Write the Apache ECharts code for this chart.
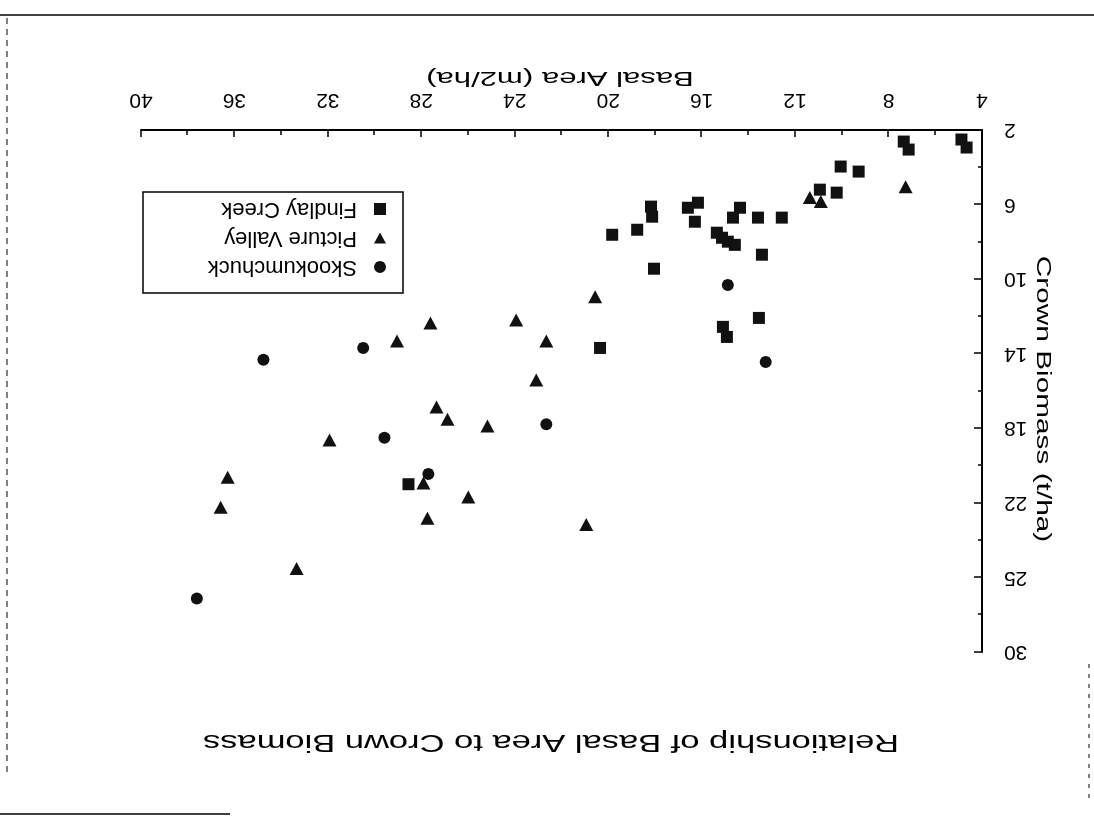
<!DOCTYPE html>
<html>
<head>
<meta charset="utf-8">
<script src="https://cdn.jsdelivr.net/npm/echarts@6/dist/echarts.min.js"></script>
<style>
  html, body { margin: 0; padding: 0; background: #fff; }
  #chart { position: absolute; left: 0; top: 0; width: 1094px; height: 818px; transform: rotate(180deg); }
</style>
</head>
<body>
<div id="chart"></div>
<script>
// ---- data (Basal Area m2/ha, Crown Biomass t/ha) ----
const seriesNames = ["Skookumchuck", "Picture Valley", "Findlay Creek"];

const skookumchuck = [
  [14.88, 10.31], [13.26, 14.45], [22.65, 17.78], [30.49, 13.69],
  [34.76, 14.33], [29.58, 18.51], [27.70, 20.45], [37.61, 27.13]
];

const pictureValley = [
  [7.27, 5.04], [11.37, 5.62], [10.90, 5.83], [20.56, 10.95],
  [23.94, 12.19], [22.65, 13.32], [23.08, 15.41], [25.17, 17.88],
  [27.61, 12.35], [29.04, 13.32], [27.35, 16.86], [26.88, 17.51],
  [31.93, 18.63], [36.29, 20.62], [36.59, 22.24], [27.91, 20.94],
  [25.99, 21.69], [27.74, 22.83], [20.94, 23.16], [33.34, 25.52]
];

const findlayCreek = [
  [4.88, 2.51], [4.66, 2.94], [7.35, 2.62], [7.14, 3.05],
  [10.05, 3.96], [9.28, 4.23], [10.94, 5.20], [10.22, 5.36],
  [12.57, 6.70], [13.59, 6.70], [14.36, 6.17], [14.66, 6.70],
  [15.35, 7.51], [15.13, 7.78], [14.88, 7.99], [14.58, 8.16],
  [13.42, 8.69], [16.16, 5.90], [16.59, 6.17], [16.29, 6.92],
  [18.17, 6.11], [18.12, 6.65], [18.76, 7.35], [19.83, 7.62],
  [18.04, 9.44], [13.55, 12.08], [15.09, 12.56], [14.92, 13.10],
  [20.35, 13.69], [28.55, 21.00]
];

const xTickValues = [4, 8, 12, 16, 20, 24, 28, 32, 36, 40];
const xTickLabels = ["4", "8", "12", "16", "20", "24", "28", "32", "36", "40"];
const yTickValues = [2, 6, 10, 14, 18, 22, 26, 30];
const yTickLabels = ["2", "6", "10", "14", "18", "22", "25", "30"];

const titleText = "Relationship of Basal Area to Crown Biomass";
const xName = "Basal Area (m2/ha)";
const yName = "Crown Biomass (t/ha)";

// ---- chart ----
const FONT = "'Liberation Sans', Arial, sans-serif";
const INK = '#111';
function lab(values, labels) {
  return function (v) {
    for (let i = 0; i < values.length; i++) {
      if (Math.abs(values[i] - v) < 1e-6) return labels[i];
    }
    return '';
  };
}
// the page is shown rotated 180deg, so the triangle is drawn pointing down here
const downTriangle = 'path://M0,0 L10,0 L5,9 Z';

const chart = echarts.init(document.getElementById('chart'), null, { renderer: 'canvas' });
const option = {
  backgroundColor: '#ffffff',
  animation: false,
  grid: { left: 112, right: 141, top: 166, bottom: 130, containLabel: false },
  xAxis: {
    type: 'value', min: 4, max: 40, interval: 4,
    axisLine: { show: true, lineStyle: { color: '#000', width: 2 } },
    axisTick: { show: true, inside: true, length: 7, lineStyle: { color: '#000', width: 1.5 } },
    minorTick: { show: true, splitNumber: 2, length: 5, lineStyle: { color: '#000', width: 1.5 } },
    splitLine: { show: false },
    axisLabel: { margin: 20, fontSize: 21, fontFamily: FONT, color: '#000',
                 formatter: lab(xTickValues, xTickLabels) }
  },
  yAxis: {
    type: 'value', min: 2, max: 30, interval: 4,
    axisLine: { show: true, lineStyle: { color: '#000', width: 2 } },
    axisTick: { show: true, inside: true, length: 8, lineStyle: { color: '#000', width: 1.5 } },
    minorTick: { show: true, splitNumber: 2, length: 4, lineStyle: { color: '#000', width: 1.5 } },
    splitLine: { show: false },
    axisLabel: { margin: 22, fontSize: 21, fontFamily: FONT, color: '#000',
                 formatter: lab(yTickValues, yTickLabels) }
  },
  legend: {
    orient: 'vertical', left: 691, top: 525,
    padding: [15, 10, 6, 17],
    itemGap: 7, itemWidth: 12, itemHeight: 12,
    borderColor: '#000', borderWidth: 1.5,
    data: [
      { name: seriesNames[0], icon: 'circle' },
      { name: seriesNames[1], icon: downTriangle },
      { name: seriesNames[2], icon: 'rect' }
    ],
    itemStyle: { opacity: 1 },
    textStyle: { fontSize: 22, fontFamily: FONT, color: '#000', lineHeight: 22,
                 width: 204, padding: [0, 0, 0, 12] }
  },
  series: [
    { name: seriesNames[0], type: 'scatter', data: skookumchuck, symbol: 'circle', symbolSize: 12,
      itemStyle: { color: INK, opacity: 1 } },
    { name: seriesNames[1], type: 'scatter', data: pictureValley, symbol: downTriangle, symbolSize: [14, 13],
      itemStyle: { color: INK, opacity: 1 } },
    { name: seriesNames[2], type: 'scatter', data: findlayCreek, symbol: 'rect', symbolSize: 12,
      itemStyle: { color: INK, opacity: 1 } }
  ],
  graphic: [
    { type: 'text', x: 543, y: 77, scaleX: 1.5,
      style: { text: titleText, font: '23px ' + FONT, fill: '#000', align: 'center', verticalAlign: 'middle',
               textAlign: 'center', textVerticalAlign: 'middle' } },
    { type: 'text', x: 534, y: 740, scaleX: 1.48,
      style: { text: xName, font: '21px ' + FONT, fill: '#000', align: 'center', verticalAlign: 'middle',
               textAlign: 'center', textVerticalAlign: 'middle' } },
    { type: 'text', x: 51, y: 419, scaleX: 1.49, rotation: Math.PI / 2,
      style: { text: yName, font: '20px ' + FONT, fill: '#000', align: 'center', verticalAlign: 'middle',
               textAlign: 'center', textVerticalAlign: 'middle' } },
    // scan page edges
    { type: 'line', shape: { x1: 0, y1: 803, x2: 1094, y2: 803 }, style: { stroke: '#000', lineWidth: 1.5 } },
    { type: 'line', shape: { x1: 1087, y1: 46, x2: 1087, y2: 802 }, style: { stroke: '#000', lineWidth: 1, lineDash: [6, 5] } },
    { type: 'line', shape: { x1: 864, y1: 4, x2: 1094, y2: 4 }, style: { stroke: '#000', lineWidth: 1.5 } },
    { type: 'line', shape: { x1: 5, y1: 20, x2: 5, y2: 155 }, style: { stroke: '#000', lineWidth: 1, lineDash: [4, 6] } }
  ]
};
chart.setOption(option);
</script>
</body>
</html>
